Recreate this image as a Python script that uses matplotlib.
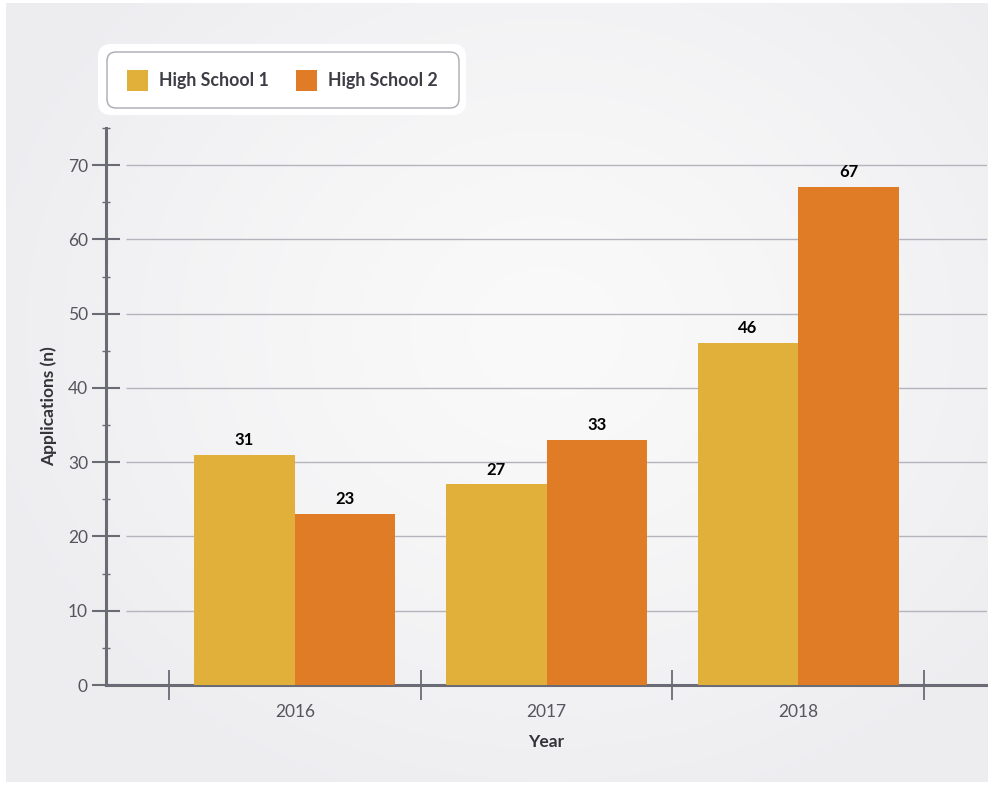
import numpy as np
import matplotlib
matplotlib.use("Agg")
import matplotlib.pyplot as plt
from matplotlib.patches import FancyBboxPatch, Rectangle
from matplotlib.ticker import FixedLocator, MultipleLocator

years = ["2016", "2017", "2018"]
series_names = ["High School 1", "High School 2"]
hs1 = [31, 27, 46]
hs2 = [23, 33, 67]
colors = ["#e0b03a", "#e07c26"]

plt.rcParams["font.family"] = ["Lato", "DejaVu Sans"]
W, H = 988, 785
fig = plt.figure(figsize=(W / 100, H / 100), dpi=100)
fig.patch.set_facecolor("white")

# background panel with soft radial gradient
bg = fig.add_axes([6 / W, 3 / H, 982 / W, 779 / H], zorder=0)
yy, xx = np.mgrid[0:779, 0:982]
d = np.sqrt(((xx - 540) / 560.0) ** 2 + ((yy - 330) / 480.0) ** 2)
d = np.clip(d, 0, 1) ** 1.3
c0 = np.array([0.98, 0.98, 0.98])
c1 = np.array([0.933, 0.933, 0.945])
img = c0 + (c1 - c0) * d[..., None]
bg.imshow(img, aspect="auto", interpolation="bilinear")
bg.axis("off")

ax = fig.add_axes([106 / W, 1 - 685 / H, 881 / W, (685 - 128) / H], zorder=2)
ax.set_facecolor("none")

x = np.arange(len(years))
w = 0.4
axis_col = "#6b6b76"
b1 = ax.bar(x - w / 2, hs1, w, color=colors[0], zorder=3)
b2 = ax.bar(x + w / 2, hs2, w, color=colors[1], zorder=3)
for bars in (b1, b2):
    ax.bar_label(bars, padding=5, fontsize=12, fontweight="bold", color="black")

ax.set_xlim(-0.75, 2.75)
ax.set_ylim(0, 75)
ax.hlines(np.arange(10, 80, 10), -0.67, 2.75, color="#b4b4bc", lw=1, zorder=1)

for s in ["top", "right"]:
    ax.spines[s].set_visible(False)
for s in ["left", "bottom"]:
    ax.spines[s].set_color(axis_col)
    ax.spines[s].set_linewidth(2.2)

ax.yaxis.set_major_locator(MultipleLocator(10))
ax.yaxis.set_minor_locator(MultipleLocator(5))
ax.tick_params(axis="y", which="major", direction="inout", length=20, width=1.5,
               color=axis_col, labelsize=12.5, labelcolor="#55555d", pad=3)
ax.tick_params(axis="y", which="minor", direction="inout", length=6, width=1,
               color=axis_col)

ax.xaxis.set_major_locator(FixedLocator(x))
ax.set_xticklabels(years)
ax.xaxis.set_minor_locator(FixedLocator(np.arange(-0.5, 3, 1)))
ax.tick_params(axis="x", which="major", length=0, labelsize=12.5,
               labelcolor="#55555d", pad=14)
ax.tick_params(axis="x", which="minor", direction="inout", length=21, width=1.3,
               color=axis_col)

ax.set_xlabel("Year", fontsize=12.5, fontweight="bold", color="#333338", labelpad=10)
ax.set_ylabel("Applications (n)", fontsize=12.5, fontweight="bold", color="#333338",
              labelpad=8)

# legend box
inch = fig.dpi_scale_trans
def P(px, py):
    return px / 100, (H - py) / 100

x0, y0 = P(98, 115)
fig.patches.append(FancyBboxPatch((x0, y0), 3.68, 0.71,
                                  boxstyle="round,pad=0,rounding_size=0.13",
                                  transform=inch, fc="white", ec="none", zorder=5))
x0, y0 = P(107, 108)
fig.patches.append(FancyBboxPatch((x0, y0), 3.52, 0.56,
                                  boxstyle="round,pad=0,rounding_size=0.09",
                                  transform=inch, fc="white", ec="#a9a9b1", lw=1,
                                  zorder=6))
for i, (name, col) in enumerate(zip(series_names, colors)):
    px = 127 + i * 169
    sx, sy = P(px, 91)
    fig.patches.append(Rectangle((sx, sy), 0.21, 0.21, transform=inch, fc=col,
                                 ec="none", zorder=7))
    tx, ty = P(px + 32, 80.5)
    fig.text(tx, ty, name, transform=inch, fontsize=12.8, fontweight="bold",
             color="#3d3d45", va="center", ha="left", zorder=8)

fig.savefig("out.png", dpi=100)
